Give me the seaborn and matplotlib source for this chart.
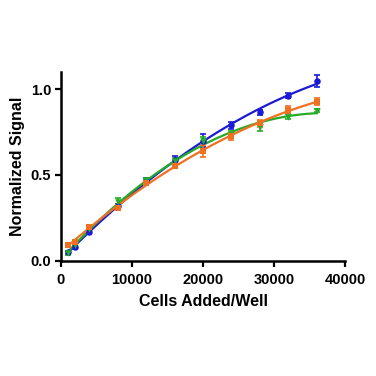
import numpy as np
import pandas as pd
import seaborn as sns
import matplotlib
matplotlib.use("Agg")
import matplotlib.pyplot as plt

# ===============================
# DATA
# ===============================
cells = [1000, 2000, 4000, 8000, 12000, 16000, 20000, 24000, 28000, 32000, 36000]

blue   = [0.05, 0.08, 0.17, 0.32, 0.47, 0.59, 0.70, 0.79, 0.865, 0.96, 1.045]
orange = [0.095, 0.11, 0.20, 0.31, 0.455, 0.555, 0.64, 0.725, 0.80, 0.88, 0.925]
green  = [0.045, 0.095, 0.185, 0.34, 0.47, 0.58, 0.70, 0.735, 0.78, 0.84, 0.875]

blue_err   = [0.01, 0.01, 0.01, 0.01, 0.015, 0.02, 0.04, 0.02, 0.015, 0.015, 0.035]
orange_err = [0.01, 0.01, 0.01, 0.015, 0.01, 0.015, 0.035, 0.02, 0.02, 0.02, 0.02]
green_err  = [0.01, 0.01, 0.01, 0.025, 0.015, 0.02, 0.02, 0.02, 0.025, 0.015, 0.01]

series = {
    "blue":   (blue, blue_err, "#1a1ad6", "o"),
    "green":  (green, green_err, "#25ab25", "v"),
    "orange": (orange, orange_err, "#f07022", "s"),
}

# ===============================
# PLOT
# ===============================
sns.set_style("ticks")
plt.rcParams["font.family"] = ["Liberation Sans", "DejaVu Sans"]

fig = plt.figure(figsize=(3.76, 3.76), dpi=100)
ax = fig.add_axes([0.162, 0.306, 0.756, 0.503])

xs = np.linspace(min(cells), max(cells), 200)
for name, (vals, errs, color, marker) in series.items():
    # smooth fit through the points, like the reference curve fit
    coef = np.polyfit(cells, vals, 2)
    fit = pd.DataFrame({"x": xs, "y": np.polyval(coef, xs)})
    sns.lineplot(data=fit, x="x", y="y", color=color, linewidth=1.6, ax=ax)
    ax.errorbar(cells, vals, yerr=errs, fmt="none", ecolor=color,
                elinewidth=1.2, capsize=2.5, capthick=1.2)
    sns.scatterplot(x=cells, y=vals, color=color, marker=marker, s=22,
                    edgecolor=color, linewidth=0, ax=ax, zorder=3)

ax.set_xlim(0, 40000)
ax.set_ylim(0, 1.1)
ax.set_xticks([0, 10000, 20000, 30000, 40000])
ax.set_yticks([0.0, 0.5, 1.0])
ax.set_yticklabels(["0.0", "0.5", "1.0"])
sns.despine(ax=ax)
for s in ["left", "bottom"]:
    ax.spines[s].set_linewidth(1.8)
    ax.spines[s].set_color("black")
ax.tick_params(width=1.6, length=4, labelsize=10.5, pad=3,
               color="black", labelcolor="black")
ax.tick_params(axis="x", pad=5)
for lab in ax.get_xticklabels() + ax.get_yticklabels():
    lab.set_fontweight("bold")

ax.set_xlabel("Cells Added/Well", fontsize=11.5, fontweight="bold",
              labelpad=5, color="black")
ax.set_ylabel("Normalized Signal", fontsize=11.5, fontweight="bold",
              labelpad=4, color="black")

fig.savefig("out.png", dpi=100)
